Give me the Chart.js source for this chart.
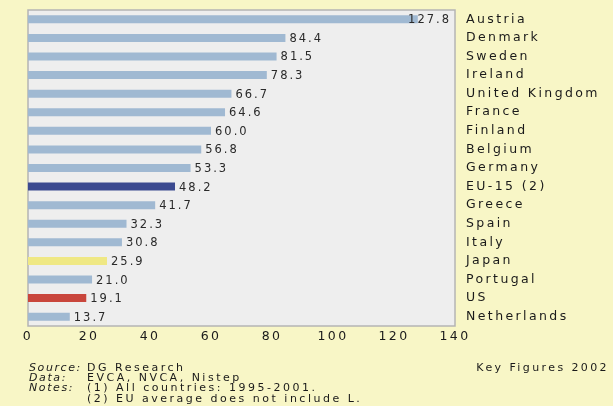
<!DOCTYPE html>
<html>
<head>
<meta charset="utf-8">
<script src="https://cdn.jsdelivr.net/npm/chart.js@4/dist/chart.umd.min.js"></script>
<style>
  body { margin: 0; background: #f8f6c6; }
  #wrap { width: 613px; height: 406px; }
</style>
</head>
<body>
<div id="wrap"><canvas id="bar-chart" width="613" height="406"></canvas></div>
<script>
// countries, top to bottom
const categories = ['Austria', 'Denmark', 'Sweden', 'Ireland', 'United Kingdom', 'France', 'Finland',
  'Belgium', 'Germany', 'EU-15 (2)', 'Greece', 'Spain', 'Italy', 'Japan', 'Portugal', 'US', 'Netherlands'];
// values shown at the end of each bar
const values = [127.8, 84.4, 81.5, 78.3, 66.7, 64.6, 60.0, 56.8, 53.3, 48.2, 41.7, 32.3, 30.8, 25.9, 21.0, 19.1, 13.7];
// x axis ticks
const xTicks = [0, 20, 40, 60, 80, 100, 120, 140];
// footnotes
const notes = [
  ['Source:', 'DG Research'],
  ['Data:', 'EVCA, NVCA, Nistep'],
  ['Notes:', '(1) All countries: 1995-2001.'],
  ['', '(2) EU average does not include L.'],
];
const credit = 'Key Figures 2002';

const baseColor = '#a0b9d2';
const highlight = { 'EU-15 (2)': '#3b4a90', 'Japan': '#efe884', 'US': '#c9463c' };
const barColors = categories.map(c => highlight[c] || baseColor);

const FONT = '"DejaVu Sans", sans-serif';

// letter spacing like the original print
const spacing = {
  id: 'spacing',
  beforeUpdate(chart) { chart.ctx.letterSpacing = '2.4px'; },
  beforeDraw(chart) { chart.ctx.letterSpacing = '2.4px'; },
};

// grey plot box
const plotBox = {
  id: 'plotBox',
  beforeDatasetsDraw(chart) {
    const { ctx, chartArea: a } = chart;
    ctx.save();
    ctx.fillStyle = '#eeeeee';
    ctx.fillRect(a.left, a.top, a.right - a.left, a.bottom - a.top);
    ctx.strokeStyle = '#b4b4b4';
    ctx.lineWidth = 1.5;
    ctx.strokeRect(a.left, a.top, a.right - a.left, a.bottom - a.top);
    ctx.restore();
  },
};

// value labels + footnotes
const labels = {
  id: 'labels',
  afterDatasetsDraw(chart) {
    const ctx = chart.ctx;
    const meta = chart.getDatasetMeta(0);
    ctx.save();
    ctx.font = '11.5px ' + FONT;
    ctx.letterSpacing = '2px';
    ctx.fillStyle = '#2a2a2a';
    ctx.textBaseline = 'middle';
    meta.data.forEach((bar, i) => {
      const txt = values[i].toFixed(1);
      const w = ctx.measureText(txt).width;
      if (bar.x + 4 + w > chart.chartArea.right) {
        ctx.textAlign = 'right';
        ctx.fillText(txt, chart.chartArea.right - 4, bar.y + 1);
      } else {
        ctx.textAlign = 'left';
        ctx.fillText(txt, bar.x + 4, bar.y + 1);
      }
    });
    ctx.restore();
  },
  afterDraw(chart) {
    const ctx = chart.ctx;
    ctx.save();
    ctx.fillStyle = '#1a1a1a';
    ctx.textBaseline = 'middle';
    ctx.letterSpacing = '1.6px';
    notes.forEach((n, i) => {
      const y = 368 + i * 10.3;
      ctx.font = 'italic 11px ' + FONT;
      ctx.fillText(n[0], 29, y);
      ctx.font = '11px ' + FONT;
      ctx.letterSpacing = '2.5px';
      ctx.fillText(n[1], 87, y);
      ctx.letterSpacing = '1.6px';
    });
    ctx.letterSpacing = '2.4px';
    ctx.textAlign = 'right';
    ctx.fillText(credit, 609, 368);
    ctx.restore();
  },
};

const ctx = document.getElementById('bar-chart').getContext('2d');
new Chart(ctx, {
  type: 'bar',
  data: {
    labels: categories,
    datasets: [{
      data: values,
      backgroundColor: barColors,
      categoryPercentage: 1,
      barPercentage: 0.43,
    }],
  },
  options: {
    indexAxis: 'y',
    responsive: false,
    animation: false,
    layout: { padding: { left: 28, top: 10, right: 0, bottom: 0 } },
    plugins: {
      legend: { display: false },
      tooltip: { enabled: false },
    },
    scales: {
      x: {
        min: 0,
        max: 140,
        afterFit(axis) { axis.height = 80; axis.paddingLeft = 0; axis.paddingRight = 0; },
        afterBuildTicks(axis) { axis.ticks = xTicks.map(v => ({ value: v })); },
        grid: { display: false, drawTicks: false },
        border: { display: false },
        ticks: {
          color: '#1a1a1a',
          padding: 3,
          maxRotation: 0,
          font: { family: FONT, size: 12.5 },
        },
      },
      y: {
        position: 'right',
        afterFit(axis) { axis.width = 158; axis.paddingTop = 0; axis.paddingBottom = 0; },
        grid: { display: false, drawTicks: false },
        border: { display: false },
        ticks: {
          color: '#1a1a1a',
          padding: 11,
          autoSkip: false,
          font: { family: FONT, size: 12.5 },
        },
      },
    },
  },
  plugins: [spacing, plotBox, labels],
});
</script>
</body>
</html>
